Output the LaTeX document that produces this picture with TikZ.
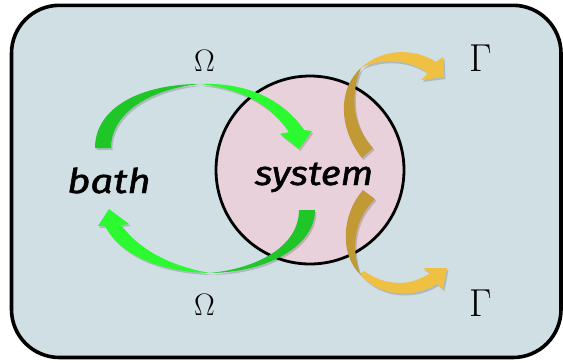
\documentclass[tikz,border=0pt]{standalone}
\usepackage{fontspec}
\newfontfamily\hand{Fira Sans}[ItalicFeatures={FakeBold=1.3}]
\definecolor{bg}{HTML}{D0DFE3}
\definecolor{sysfill}{HTML}{E8D1DA}
\definecolor{gdark}{HTML}{1FC628}
\definecolor{glight}{HTML}{2BFA30}
\definecolor{odark}{HTML}{C19A36}
\definecolor{olight}{HTML}{F0C043}
\tikzset{
  shd/.style={preaction={fill=black,fill opacity=.16,transform canvas={shift={(1.5pt,-2pt)}}}},
  word/.style={font=\hand\itshape\fontsize{34}{34}\selectfont, anchor=base, inner sep=0pt},
  greek/.style={inner sep=0pt}
}
\begin{document}
\begin{tikzpicture}[x=1pt,y=-1pt]
\useasboundingbox (0,0) rectangle (563,362);
\draw[line width=3.6pt, fill=bg, rounded corners=48pt] (11.5,5.3) rectangle (561,357.5);
\node[circle, draw, line width=2.8pt, fill=sysfill, minimum size=188pt, inner sep=0pt] (sys) at (310,170) {};

% top green arrow bath -> system
\coordinate (gtA) at (95,148);
\coordinate (gtB) at (111,148);
\coordinate (gtTop) at (200,84);
\coordinate (gtTip) at (299,149);
\fill[glight, shd] (gtTop) .. controls (250,82) and (285,102) .. (304,130) -- (312,131) -- (gtTip) -- (280,134) -- (289,132) .. controls (272,107) and (245,89) .. (gtTop) -- cycle;
\fill[gdark, shd] (gtA) .. controls (95,108) and (140,84) .. (gtTop) .. controls (150,89) and (111,113) .. (gtB) -- cycle;

% bottom green arrow system -> bath
\coordinate (gbA) at (315,210);
\coordinate (gbB) at (299,210);
\coordinate (gbBot) at (210,273);
\coordinate (gbTip) at (109,209);
\fill[glight, shd] (gbBot) .. controls (160,272) and (120,255) .. (105,226) -- (98,226) -- (gbTip) -- (129,224) -- (121,225) .. controls (140,250) and (170,266) .. (gbBot) -- cycle;
\fill[gdark, shd] (gbA) .. controls (315,245) and (270,272) .. (gbBot) .. controls (260,268) and (299,245) .. (gbB) -- cycle;

% top gold arrow
\coordinate (otA) at (362,158);
\coordinate (otB) at (373,148);
\coordinate (otTw) at (361,68);
\coordinate (otTip) at (444,77);
\fill[olight, shd] (otTw) .. controls (382,48) and (415,48) .. (436,62) -- (443,57) -- (otTip) -- (421,80) -- (428,73) .. controls (410,60) and (385,58) .. (365,66) -- cycle;
\fill[odark, shd] (otA) .. controls (338,128) and (338,88) .. (otTw) .. controls (350,95) and (352,125) .. (otB) -- cycle;

% bottom gold arrow
\coordinate (obA) at (363,190);
\coordinate (obB) at (375,199);
\coordinate (obTw) at (360,274);
\coordinate (obTip) at (447,268);
\fill[olight, shd] (obTw) .. controls (380,298) and (415,298) .. (437,284) -- (443,289) -- (obTip) -- (423,268) -- (430,273) .. controls (410,287) and (385,286) .. (364,271) -- cycle;
\fill[odark, shd] (obA) .. controls (341,215) and (340,255) .. (obTw) .. controls (352,250) and (352,222) .. (obB) -- cycle;

\node[word] (bath) at (109,193) {\scalebox{1.18}[1]{bath}};
\node[word] (systxt) at (314,185) {\scalebox{1.13}[1]{system}};
\node[greek, font=\fontsize{31}{31}\selectfont] (om1) at (204.5,61) {Ω};
\node[greek, font=\fontsize{31}{31}\selectfont] (om2) at (204.5,305) {Ω};
\node[greek, font=\fontsize{39}{39}\selectfont] (ga1) at (481,58.5) {Γ};
\node[greek, font=\fontsize{39}{39}\selectfont] (ga2) at (480.5,303) {Γ};
\end{tikzpicture}
\end{document}
